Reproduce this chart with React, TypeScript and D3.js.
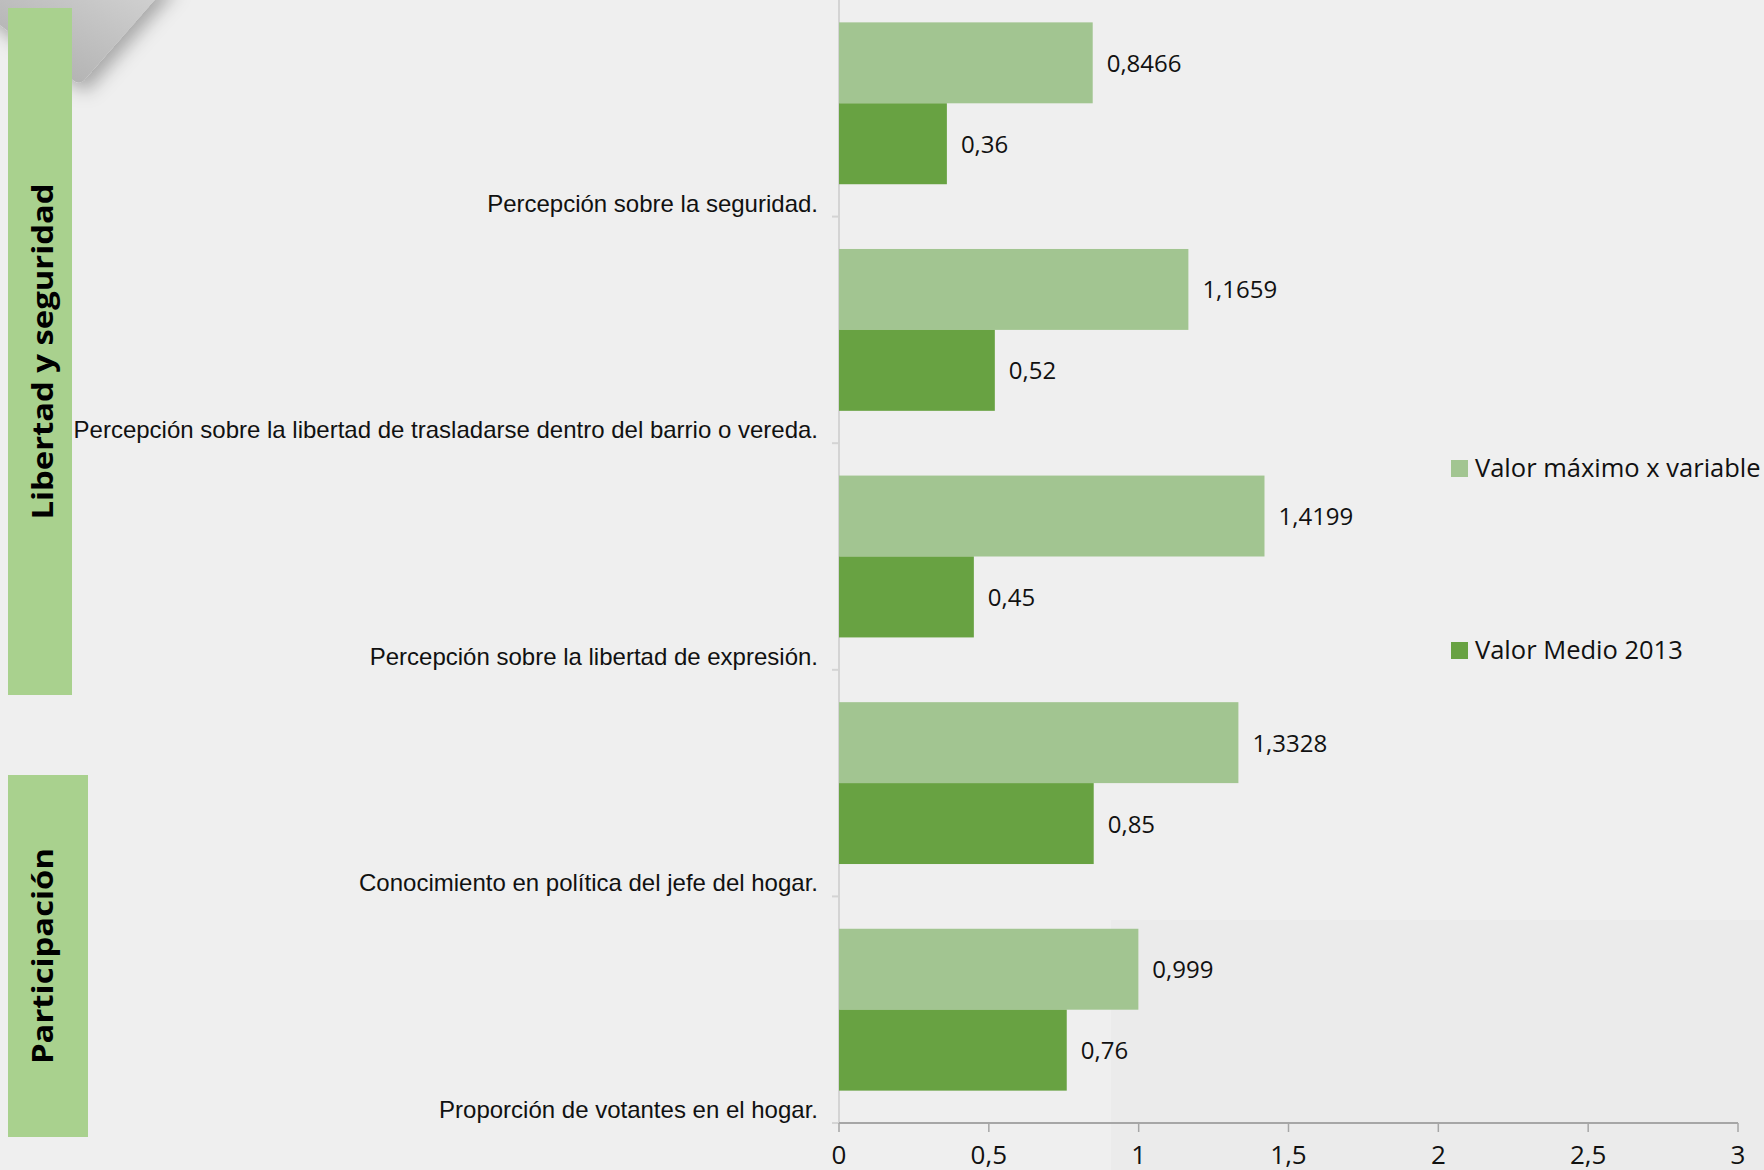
import React from "react";
import * as d3 from "d3";

const categories = [
  "Percepción sobre la seguridad.",
  "Percepción sobre la libertad de trasladarse dentro del barrio o vereda.",
  "Percepción sobre la libertad de expresión.",
  "Conocimiento en política del jefe del hogar.",
  "Proporción de votantes en el hogar.",
];
const seriesNames = ["Valor máximo x variable", "Valor Medio 2013"];
const maxValues = [0.8466, 1.1659, 1.4199, 1.3328, 0.999];
const meanValues = [0.36, 0.52, 0.45, 0.85, 0.76];
const xTicks = [0, 0.5, 1, 1.5, 2, 2.5, 3];
const groupLabels = ["Libertad y seguridad", "Participación"];

const W = 1764;
const H = 1170;
const LIGHT = "#a2c591";
const DARK = "#68a242";
const BOX = "#a9d18e";

const fmt = (v: number) => String(v).replace(".", ",");

export default function App() {
  const x = d3.scaleLinear().domain([0, 3]).range([839, 1738]);
  const y = d3.scaleBand<string>().domain(categories).range([-10, 1123]).padding(0);
  const y1 = d3
    .scaleBand<string>()
    .domain(seriesNames)
    .range([0, y.step()])
    .paddingInner(0)
    .paddingOuter(0.4);
  const series = [
    { name: seriesNames[0], values: maxValues, color: LIGHT },
    { name: seriesNames[1], values: meanValues, color: DARK },
  ];
  const axisY = 1123;
  const font = "'Open Sans', sans-serif";

  const groups = [
    { label: groupLabels[0], x0: 8, x1: 72, y0: 8, y1: 695, len: 336 },
    { label: groupLabels[1], x0: 8, x1: 88, y0: 775, y1: 1137, len: 216 },
  ];

  return (
    <svg
      width={W}
      height={H}
      style={{ position: "absolute", left: 0, top: 0, display: "block" }}
    >
      <defs>
        <linearGradient id="gshape" x1="0" y1="1" x2="1" y2="0">
          <stop offset="0" stopColor="#a9a9a9" />
          <stop offset="1" stopColor="#d6d6d6" />
        </linearGradient>
        <filter id="shadow" x="-50%" y="-50%" width="200%" height="200%">
          <feDropShadow dx="6" dy="8" stdDeviation="9" floodColor="#000" floodOpacity="0.3" />
        </filter>
      </defs>
      <rect x={0} y={0} width={W} height={H} fill="#efefef" />
      <rect x={1111} y={920} width={W - 1111} height={H - 920} fill="#ebebeb" />

      {/* decorative shape top-left */}
      <path
        d="M -20 -20 L 172 -20 L 86 78 Q 80 86 73 80 L -20 10 Z"
        fill="url(#gshape)"
        filter="url(#shadow)"
      />

      {/* group boxes */}
      {groups.map((g) => {
        const cx = 43;
        const cy = (g.y0 + g.y1) / 2;
        return (
          <g key={g.label}>
            <rect x={g.x0} y={g.y0} width={g.x1 - g.x0} height={g.y1 - g.y0} fill={BOX} />
            <text
              transform={`translate(${cx + 10},${cy}) rotate(-90)`}
              textAnchor="middle"
              fontFamily={font}
              fontWeight="bold"
              fontSize={29}
              textLength={g.len}
              lengthAdjust="spacingAndGlyphs"
              fill="#000"
            >
              {g.label}
            </text>
          </g>
        );
      })}

      {/* y axis */}
      <line x1={x(0)} x2={x(0)} y1={0} y2={axisY} stroke="#d4d4d4" strokeWidth={2} />
      {categories.map((c) => (
        <line
          key={"t" + c}
          x1={x(0) - 7}
          x2={x(0)}
          y1={(y(c) as number) + y.step()}
          y2={(y(c) as number) + y.step()}
          stroke="#d4d4d4"
          strokeWidth={2}
        />
      ))}
      {categories.map((c) => (
        <text
          key={"l" + c}
          x={818}
          y={(y(c) as number) + y.step() - 5}
          textAnchor="end"
          fontFamily="'Liberation Sans', Arial, sans-serif"
          fontSize={24}
          fill="#111"
        >
          {c}
        </text>
      ))}

      {/* bars */}
      {series.map((s) =>
        categories.map((c, i) => {
          const by = (y(c) as number) + (y1(s.name) as number);
          const v = s.values[i];
          return (
            <g key={s.name + c}>
              <rect
                x={x(0)}
                y={by}
                width={x(v) - x(0)}
                height={y1.bandwidth()}
                fill={s.color}
              />
              <text
                x={x(v) + 14}
                y={by + y1.bandwidth() / 2 + 9}
                fontFamily={font}
                fontSize={24}
                fill="#111"
              >
                {fmt(v)}
              </text>
            </g>
          );
        })
      )}

      {/* x axis */}
      <line x1={x(0)} x2={x(3)} y1={axisY} y2={axisY} stroke="#a6a6a6" strokeWidth={2} />
      {xTicks.map((t) => (
        <g key={"x" + t}>
          <line x1={x(t)} x2={x(t)} y1={axisY} y2={axisY + 9} stroke="#a6a6a6" strokeWidth={1.5} />
          <text
            x={x(t)}
            y={1164}
            textAnchor="middle"
            fontFamily={font}
            fontSize={26}
            fill="#111"
          >
            {fmt(t)}
          </text>
        </g>
      ))}

      {/* legend */}
      {series.map((s, i) => {
        const base = i === 0 ? 477 : 659;
        return (
          <g key={"lg" + s.name}>
            <rect x={1451} y={base - 17} width={17} height={17} fill={s.color} />
            <text x={1475} y={base} fontFamily={font} fontSize={25.5} fill="#111">
              {s.name}
            </text>
          </g>
        );
      })}
    </svg>
  );
}
